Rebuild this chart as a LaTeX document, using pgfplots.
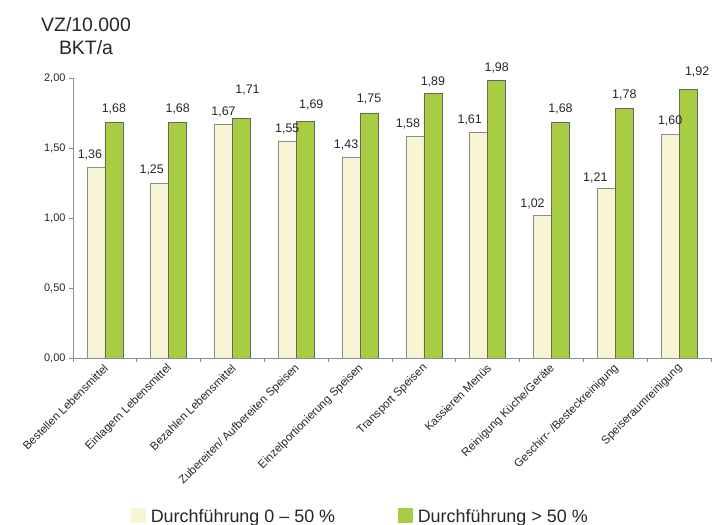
\documentclass[border=0pt]{standalone}
\usepackage{fontspec}
\setmainfont{Liberation Sans}
\usepackage{pgfplots}
\usepackage{pgfplotstable}
\pgfplotsset{compat=1.18}
\definecolor{cream}{HTML}{F8F5D4}
\definecolor{lgreen}{HTML}{A8CC42}
\definecolor{axisgray}{HTML}{8C8C8C}
\definecolor{txt}{HTML}{262626}

\pgfplotstableread{
x y
0 1.36
1 1.25
2 1.67
3 1.55
4 1.43
5 1.58
6 1.61
7 1.02
8 1.21
9 1.60
}\creamdata

\pgfplotstableread{
x y
0 1.68
1 1.68
2 1.71
3 1.69
4 1.75
5 1.89
6 1.98
7 1.68
8 1.78
9 1.92
}\greendata

\begin{document}
\begin{tikzpicture}[x=1bp,y=1bp]
\useasboundingbox (0,0) rectangle (719,525);
\node[anchor=base, text=txt, font=\fontsize{19.5}{23}\selectfont, inner sep=0pt] at (86,493) {VZ/10.000};
\node[anchor=base, text=txt, font=\fontsize{19.5}{23}\selectfont, inner sep=0pt] at (86,470) {BKT/a};
\begin{axis}[
  at={(73bp,167bp)}, anchor=south west,
  scale only axis, width=638bp, height=280bp,
  xmin=-0.5, xmax=9.5, ymin=0, ymax=2,
  axis lines=left,
  axis line style={-, draw=axisgray, line width=0.8bp},
  x axis line style={-}, y axis line style={-},
  tick align=outside,
  major tick length=4bp,
  tick style={draw=axisgray, line width=0.8bp},
  ytick={0,0.5,1,1.5,2},
  xtick={-0.5,0.5,...,9.5},
  x tick label as interval,
  xticklabels={Bestellen Lebensmittel, Einlagern Lebensmittel, Bezahlen Lebensmittel, Zubereiten/ Aufbereiten Speisen, Einzelportionierung Speisen, Transport Speisen, Kassieren Menüs, Reinigung Küche/Geräte, Geschirr- /Besteckreinigung, Speiseraumreinigung},
  x tick label style={rotate=45, anchor=east, font=\fontsize{11.5}{13}\selectfont, text=txt, inner sep=1bp, yshift=-4bp, xshift=-1bp},
  y tick label style={font=\fontsize{11}{13}\selectfont, text=txt},
  /pgf/number format/.cd, fixed, fixed zerofill, precision=2, use comma, assume math mode=true,
  /pgfplots/.cd,
  ybar=0pt, bar width=18bp,
  nodes near coords,
  nodes near coords style={anchor=base, font=\fontsize{12.5}{14}\selectfont, text=txt, yshift=9bp},
  legend columns=2,
  legend style={draw=none, fill=none, inner sep=0pt, at={(0.0909,-0.5660)}, anchor=west,
    font=\fontsize{18}{21}\selectfont, text=txt,
    /tikz/every odd column/.append style={column sep=3bp},
    /tikz/every even column/.append style={column sep=61bp}},
  legend cell align=left,
]
\addplot[fill=cream, draw=black!45, line width=0.6bp,
  coordinate style/.condition={\coordindex==0}{xshift=-6bp},
  coordinate style/.condition={\coordindex==1}{xshift=-8bp},
  coordinate style/.condition={\coordindex==3}{yshift=-1bp},
  coordinate style/.condition={\coordindex==4}{xshift=-5bp},
  coordinate style/.condition={\coordindex==5}{xshift=-7bp},
  coordinate style/.condition={\coordindex==6}{xshift=-9bp},
  coordinate style/.condition={\coordindex==7}{xshift=-10bp, yshift=-1bp},
  coordinate style/.condition={\coordindex==8}{xshift=-11bp, yshift=-2bp},
  legend image code/.code={\fill[cream] (0bp,-6bp) rectangle (14bp,8bp);}]
  table[x=x, y=y] {\creamdata};
\addplot[fill=lgreen, draw=black!60, line width=0.6bp,
  coordinate style/.condition={\coordindex==0}{yshift=1bp},
  coordinate style/.condition={\coordindex==1}{yshift=1bp},
  coordinate style/.condition={\coordindex==2}{xshift=6bp, yshift=16bp},
  coordinate style/.condition={\coordindex==3}{xshift=6bp, yshift=4bp},
  coordinate style/.condition={\coordindex==4}{yshift=1bp},
  coordinate style/.condition={\coordindex==5}{yshift=-1bp},
  coordinate style/.condition={\coordindex==7}{yshift=1bp},
  coordinate style/.condition={\coordindex==8}{yshift=1bp},
  coordinate style/.condition={\coordindex==9}{xshift=9bp, yshift=5bp},
  legend image code/.code={\fill[lgreen] (0bp,-6bp) rectangle (14bp,8bp);}]
  table[x=x, y=y] {\greendata};
\legend{Durchführung 0 – 50 \%, Durchführung > 50 \%}
\end{axis}
\end{tikzpicture}
\end{document}
